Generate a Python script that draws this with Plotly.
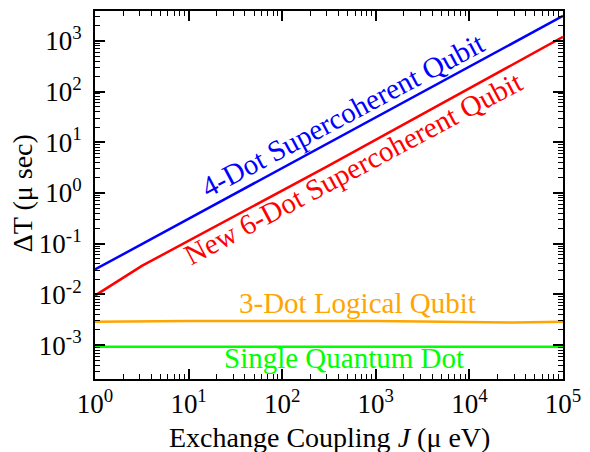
import plotly.graph_objects as go

# Data
J_four = [1, 1e5]
T_four = [0.031, 3100]

J_six = [1, 3.2, 300, 1e5]
T_six = [0.0095, 0.037, 3.3, 1200]

J_three = [1, 10, 1000, 10000, 30000, 1e5]
T_three = [0.0029, 0.0030, 0.0030, 0.0029, 0.0028, 0.0029]

J_single = [1, 1e5]
T_single = [0.00093, 0.00093]

x_tickvals = [1, 10, 100, 1000, 10000, 100000]
x_ticktext = ["10<sup>0</sup>", "10<sup>1</sup>", "10<sup>2</sup>", "10<sup>3</sup>", "10<sup>4</sup>", "10<sup>5</sup>"]
y_tickvals = [1e-3, 1e-2, 1e-1, 1, 10, 100, 1000]
y_ticktext = ["10<sup>-3</sup>", "10<sup>-2</sup>", "10<sup>-1</sup>", "10<sup>0</sup>", "10<sup>1</sup>", "10<sup>2</sup>", "10<sup>3</sup>"]

FONT = "Liberation Serif"

fig = go.Figure()
fig.add_trace(go.Scatter(x=J_four, y=T_four, mode="lines", line=dict(color="#0000ff", width=2.5)))
fig.add_trace(go.Scatter(x=J_six, y=T_six, mode="lines", line=dict(color="#ff0000", width=2.5)))
fig.add_trace(go.Scatter(x=J_three, y=T_three, mode="lines", line=dict(color="#ffa500", width=2.5)))
fig.add_trace(go.Scatter(x=J_single, y=T_single, mode="lines", line=dict(color="#00ff00", width=2.5)))

axis_common = dict(
    type="log", showgrid=False, zeroline=False,
    showline=True, linecolor="black", linewidth=2, mirror="ticks",
    ticks="inside", ticklen=10, tickwidth=1.5, tickcolor="black",
    tickfont=dict(family=FONT, size=27, color="black"),
    minor=dict(ticks="inside", ticklen=5, tickwidth=1, tickcolor="black", dtick="D1", showgrid=False),
)

fig.update_xaxes(range=[0, 5], tickvals=x_tickvals, ticktext=x_ticktext, **axis_common)
fig.update_yaxes(range=[-3.667, 3.588], tickvals=y_tickvals, ticktext=y_ticktext,
                 ticklabelstandoff=6, **axis_common)

ann = []
ann.append(dict(text="Exchange Coupling <i>J</i> (μ eV)", xref="paper", yref="paper", x=0.5, y=0,
                yshift=-58, xanchor="center", yanchor="middle", showarrow=False,
                font=dict(family=FONT, size=28, color="black")))
ann.append(dict(text="ΔT (μ sec)", xref="paper", yref="paper", x=0, y=0.505, xshift=-73,
                xanchor="center", yanchor="middle", textangle=-90, showarrow=False,
                font=dict(family=FONT, size=28, color="black")))
ann.append(dict(text="4-Dot Supercoherent Qubit", x=2.647, y=1.53, textangle=-28, showarrow=False,
                xanchor="center", yanchor="middle", font=dict(family=FONT, size=29, color="#0000ff")))
ann.append(dict(text="New 6-Dot Supercoherent Qubit", x=2.76, y=0.5, textangle=-28, showarrow=False,
                xanchor="center", yanchor="middle", font=dict(family=FONT, size=29, color="#ff0000")))
ann.append(dict(text="3-Dot Logical Qubit", x=2.80, y=-2.176, showarrow=False,
                xanchor="center", yanchor="middle", font=dict(family=FONT, size=29, color="#ffa500")))
ann.append(dict(text="Single Quantum Dot", x=2.658, y=-3.255, showarrow=False,
                xanchor="center", yanchor="middle", font=dict(family=FONT, size=29, color="#00ff00")))

fig.update_layout(
    width=590, height=452,
    margin=dict(l=95, r=19, t=9, b=73),
    paper_bgcolor="white", plot_bgcolor="white",
    showlegend=False, annotations=ann,
)

fig.write_html("out.html", config={"displayModeBar": False},
               post_script="document.body.style.margin='0';")
